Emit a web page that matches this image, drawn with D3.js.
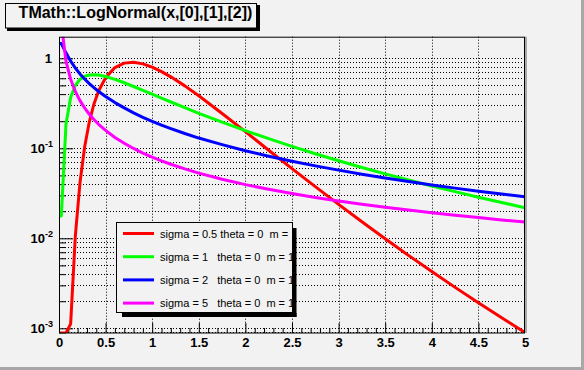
<!DOCTYPE html>
<html>
<head>
<meta charset="utf-8">
<script src="https://cdn.jsdelivr.net/npm/d3@7"></script>
<style>
  body { margin: 0; background: #f2f2f2; }
  svg { display: block; font-family: "Liberation Sans", Arial, Helvetica, sans-serif; }
</style>
</head>
<body>
<div id="chart"></div>
<script>
// x positions of the sampled curve points
const xs = [0, 0.025, 0.075, 0.125, 0.175, 0.225, 0.275, 0.325, 0.375, 0.425, 0.5, 0.6, 0.7, 0.8, 0.9, 1.0,
  1.1, 1.2, 1.35, 1.5, 1.75, 2.0, 2.25, 2.5, 2.75, 3.0, 3.25, 3.5, 3.75, 4.0, 4.25, 4.5, 4.75, 5.0];

// (values below the axis floor sit on the floor)
const sigma05 = [0.0001, 0.0001, 0.00002, 0.00112, 0.0105, 0.0414, 0.1035, 0.196, 0.311, 0.434, 0.610, 0.789, 0.884, 0.903,
  0.867, 0.798, 0.712, 0.622, 0.494, 0.383, 0.244, 0.153, 0.0952, 0.0595, 0.0375, 0.0238, 0.0153, 0.00988, 0.00646,
  0.00427, 0.00285, 0.00192, 0.00131, 0.000898];
const sigma1 = [0.0177, 0.0177, 0.186, 0.367, 0.499, 0.583, 0.631, 0.653, 0.658, 0.651, 0.628, 0.584, 0.535, 0.486, 0.441,
  0.399, 0.361, 0.327, 0.283, 0.245, 0.195, 0.157, 0.128, 0.105, 0.087, 0.0727, 0.0613, 0.052, 0.0444, 0.0382, 0.033,
  0.0286, 0.025, 0.0219];
const sigma2 = [1.456, 1.456, 1.150, 0.929, 0.780, 0.671, 0.589, 0.524, 0.472, 0.428, 0.376, 0.322, 0.281, 0.248, 0.221,
  0.1995, 0.181, 0.1655, 0.146, 0.130, 0.110, 0.0939, 0.0817, 0.0718, 0.0638, 0.0572, 0.0516, 0.0469, 0.0428, 0.0392,
  0.0361, 0.0334, 0.031, 0.0289];
const sigma5 = [3.0, 2.43, 0.930, 0.585, 0.429, 0.339, 0.281, 0.239, 0.209, 0.185, 0.158, 0.132, 0.114, 0.0996, 0.0886,
  0.0798, 0.0725, 0.0665, 0.059, 0.053, 0.0453, 0.0395, 0.035, 0.0314, 0.0284, 0.026, 0.0239, 0.0221, 0.0206, 0.0192,
  0.018, 0.017, 0.016, 0.0152];

const seriesColors = ['#ff0000', '#00ff00', '#0000ff', '#ff00ff'];
const legendLabels = [
  'sigma = 0.5 theta = 0  m = 1',
  'sigma = 1   theta = 0  m = 1',
  'sigma = 2   theta = 0  m = 1',
  'sigma = 5   theta = 0  m = 1'
];
const xTicks = [0, 0.5, 1, 1.5, 2, 2.5, 3, 3.5, 4, 4.5, 5];
const xTickLabels = ['0', '0.5', '1', '1.5', '2', '2.5', '3', '3.5', '4', '4.5', '5'];
const yDecades = [1e-3, 1e-2, 1e-1, 1];
const yDecadeExp = ['-3', '-2', '-1', null];
const title = 'TMath::LogNormal(x,[0],[1],[2])';

const w = 584, h = 370;
const frame = { left: 59, right: 525, top: 36.7, bottom: 333 };
const yMin = Math.pow(10, -3.052), yMax = Math.pow(10, 0.24);

const x = d3.scaleLinear().domain([0, 5]).range([frame.left, frame.right]);
const y = d3.scaleLog().domain([yMin, yMax]).range([frame.bottom, frame.top]);

const svg = d3.select('#chart').append('svg')
  .attr('width', w).attr('height', h)
  .attr('viewBox', `0 0 ${w} ${h}`);

svg.append('rect').attr('width', w).attr('height', h).attr('fill', '#f2f2f2');
// canvas border
svg.append('rect').attr('x', w - 3).attr('y', 0).attr('width', 3).attr('height', h).attr('fill', '#a8a8a8');
svg.append('rect').attr('x', 0).attr('y', h - 3).attr('width', w).attr('height', 3).attr('fill', '#a8a8a8');

// minor y values for grid + ticks
const yMinor = [];
for (let e = -4; e <= 0; e++) {
  for (let k = 2; k <= 9; k++) {
    const v = k * Math.pow(10, e);
    if (v > yMin && v < yMax) yMinor.push(v);
  }
}
const xMinor = d3.range(0, 51).map(i => i / 10).filter(v => Math.abs(v * 2 - Math.round(v * 2)) > 1e-6);

// grid
const grid = svg.append('g').attr('stroke', '#000').attr('stroke-width', 1).attr('stroke-dasharray', '1,2');
grid.selectAll('.gx').data(xTicks.slice(1, -1)).join('line')
  .attr('x1', d => Math.round(x(d)) + 0.5).attr('x2', d => Math.round(x(d)) + 0.5)
  .attr('y1', frame.top).attr('y2', frame.bottom);
grid.selectAll('.gy').data(yDecades.concat(yMinor)).join('line')
  .attr('x1', frame.left).attr('x2', frame.right)
  .attr('y1', d => Math.round(y(d)) + 0.5).attr('y2', d => Math.round(y(d)) + 0.5);

// x axis
const xAxis = d3.axisBottom(x).tickValues(xTicks).tickSize(-10).tickPadding(5)
  .tickFormat((d, i) => xTickLabels[i]);
svg.append('g').attr('transform', `translate(0,${frame.bottom})`)
  .call(xAxis)
  .call(g => g.select('.domain').remove())
  .call(g => g.selectAll('text').attr('font-size', 13).attr('font-weight', 'bold').attr('fill', '#000')
    .attr('font-family', '"Liberation Sans", Arial, sans-serif'));
svg.append('g').attr('transform', `translate(0,${frame.bottom})`)
  .call(d3.axisBottom(x).tickValues(xMinor).tickSize(-5).tickFormat(''))
  .call(g => g.select('.domain').remove());

// y axis
svg.append('g').attr('transform', `translate(${frame.left},0)`)
  .call(d3.axisLeft(y).tickValues(yDecades).tickSize(-14).tickFormat(''))
  .call(g => g.select('.domain').remove());
svg.append('g').attr('transform', `translate(${frame.left},0)`)
  .call(d3.axisLeft(y).tickValues(yMinor).tickSize(-7).tickFormat(''))
  .call(g => g.select('.domain').remove());
svg.selectAll('.tick line').attr('stroke', '#000');

const yLab = svg.append('g').attr('font-weight', 'bold').attr('fill', '#000');
yDecades.forEach((d, i) => {
  const t = yLab.append('text').attr('text-anchor', 'end').attr('y', y(d) + 5).attr('font-size', 13);
  if (yDecadeExp[i] === null) {
    t.attr('x', 52).text('1');
  } else {
    t.attr('x', 53);
    t.append('tspan').text('10');
    t.append('tspan').attr('font-size', 9).attr('dy', -6).text(yDecadeExp[i]);
  }
});

// curves
svg.append('clipPath').attr('id', 'frameClip').append('rect')
  .attr('x', frame.left).attr('y', frame.top)
  .attr('width', frame.right - frame.left).attr('height', frame.bottom - frame.top);

const line = d3.line()
  .x(d => x(d[0]))
  .y(d => y(Math.max(d[1], yMin)));

const curves = svg.append('g').attr('clip-path', 'url(#frameClip)');
[sigma05, sigma1, sigma2, sigma5].forEach((vals, i) => {
  curves.append('path')
    .datum(xs.map((xv, j) => [xv, vals[j]]))
    .attr('fill', 'none')
    .attr('stroke', seriesColors[i])
    .attr('stroke-width', 3)
    .attr('stroke-linejoin', 'round')
    .attr('d', line);
});

// frame
svg.append('rect').attr('x', frame.left + 0.5).attr('y', frame.top + 0.5)
  .attr('width', frame.right - frame.left - 1).attr('height', frame.bottom - frame.top - 0.5)
  .attr('fill', 'none').attr('stroke', '#000').attr('stroke-width', 1);
svg.append('rect').attr('x', frame.right).attr('y', frame.top).attr('width', 2)
  .attr('height', frame.bottom - frame.top).attr('fill', '#a8a8a8');

// legend
const leg = { x: 116, y: 222, w: 177, h: 91 };
svg.append('rect').attr('x', leg.x + leg.w).attr('y', leg.y + 6).attr('width', 3.5).attr('height', leg.h - 2).attr('fill', '#000');
svg.append('rect').attr('x', leg.x + 6).attr('y', leg.y + leg.h).attr('width', leg.w - 2.5).attr('height', 4).attr('fill', '#000');
svg.append('rect').attr('x', leg.x + 0.5).attr('y', leg.y + 0.5).attr('width', leg.w - 1).attr('height', leg.h - 1)
  .attr('fill', '#f2f2f2').attr('stroke', '#000');
svg.append('clipPath').attr('id', 'legClip').append('rect')
  .attr('x', leg.x).attr('y', leg.y).attr('width', leg.w - 1).attr('height', leg.h);
const legRows = svg.append('g').attr('clip-path', 'url(#legClip)');
legendLabels.forEach((lab, i) => {
  const cy = leg.y + 11.5 + i * 23.2;
  legRows.append('line').attr('x1', 123).attr('x2', 154).attr('y1', cy).attr('y2', cy)
    .attr('stroke', seriesColors[i]).attr('stroke-width', 3);
  legRows.append('text').attr('x', 160).attr('y', cy + 4).attr('font-size', 11)
    .attr('fill', '#000').style('white-space', 'pre').text(lab);
});

// title box
svg.append('rect').attr('x', 257).attr('y', 5).attr('width', 3).attr('height', 26).attr('fill', '#000');
svg.append('rect').attr('x', 7).attr('y', 28).attr('width', 253).attr('height', 3).attr('fill', '#000');
svg.append('rect').attr('x', 5.5).attr('y', 3.5).attr('width', 251).attr('height', 24.5)
  .attr('fill', '#f2f2f2').attr('stroke', '#000');
svg.append('text').attr('x', 135.5).attr('y', 17.8).attr('text-anchor', 'middle')
  .attr('font-size', 16).attr('font-weight', 'bold').attr('fill', '#000').text(title);
</script>
</body>
</html>
